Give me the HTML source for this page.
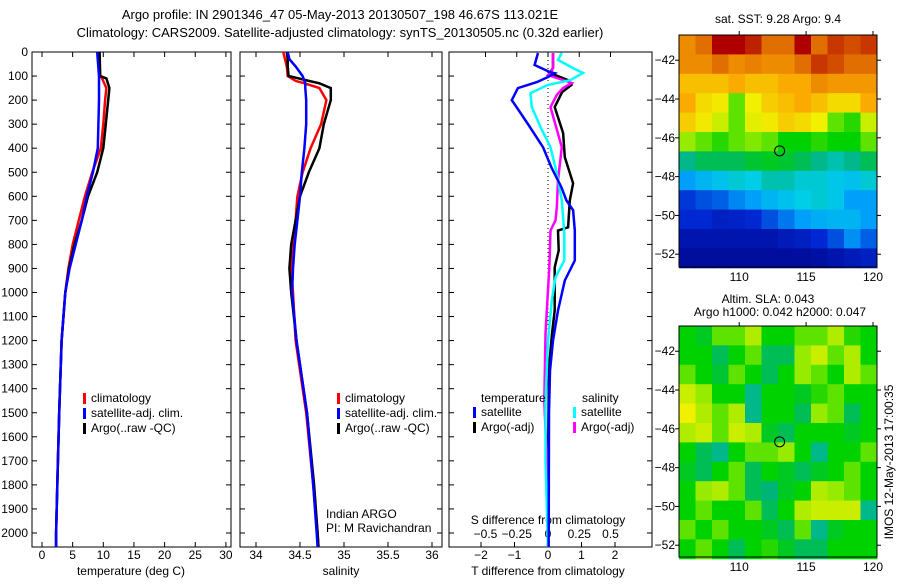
<!DOCTYPE html>
<html><head><meta charset="utf-8"><style>
body{margin:0;background:#fff;}
svg text{font-family:"Liberation Sans",sans-serif;font-size:12px;fill:#000;}
</style></head><body>
<svg id="s" width="900" height="580" xmlns="http://www.w3.org/2000/svg">
<text x="340" y="19" text-anchor="middle" style="font-size:13px">Argo profile: IN 2901346_47 05-May-2013 20130507_198 46.67S 113.021E</text>
<text x="340" y="37" text-anchor="middle" style="font-size:13px">Climatology: CARS2009. Satellite-adjusted climatology: synTS_20130505.nc (0.32d earlier)</text>
<text x="131" y="575" text-anchor="middle">temperature (deg C)</text>
<text x="341" y="575" text-anchor="middle">salinity</text>
<text x="548" y="575" text-anchor="middle">T difference from climatology</text>
<text x="548" y="524" text-anchor="middle">S difference from climatology</text>
<text x="326" y="518">Indian ARGO</text>
<text x="326" y="532">PI: M Ravichandran</text>
<text x="778" y="23" text-anchor="middle">sat. SST: 9.28 Argo: 9.4</text>
<text x="768" y="303" text-anchor="middle">Altim. SLA: 0.043</text>
<text x="780" y="316" text-anchor="middle">Argo h1000: 0.042 h2000: 0.047</text>
<text transform="translate(893,462) rotate(-90)" text-anchor="middle">IMOS 12-May-2013 17:00:35</text>
<g id="g"></g>
</svg>
<script>
// ---- data ----
const depthsT = [0,100,110,150,200,300,400,500,600,700,800,900,1000,1200,1500,1800,2000,2060];
const tempClim = [9.2,9.5,9.8,10.5,10.3,10.0,9.6,8.2,7.0,6.0,5.0,4.3,3.8,3.2,2.8,2.5,2.3,2.3];
const tempArgo = [9.4,9.5,10.5,11.0,10.8,10.4,10.0,9.0,7.5,6.5,5.3,4.4,3.8,3.2,2.8,2.5,2.3,2.3];
const tempSat  = [9.0,9.3,9.3,9.3,9.3,9.2,9.1,8.3,7.3,6.5,5.5,4.5,3.8,3.2,2.8,2.5,2.3,2.3];
const depthsS = [0,30,60,100,120,130,150,200,300,400,500,600,700,800,900,1000,1200,1500,1800,2000,2060];
const salClim = [34.31,34.33,34.35,34.36,34.45,34.55,34.72,34.8,34.74,34.62,34.53,34.47,34.45,34.42,34.4,34.42,34.45,34.57,34.65,34.7,34.71];
const salArgo = [34.35,34.36,34.36,34.37,34.6,34.72,34.85,34.85,34.77,34.72,34.6,34.5,34.45,34.4,34.38,34.4,34.46,34.58,34.66,34.7,34.71];
const salSat  = [34.36,34.38,34.45,34.53,34.55,34.56,34.56,34.57,34.57,34.55,34.52,34.5,34.47,34.44,34.42,34.41,34.46,34.58,34.65,34.69,34.7];
const dDepthBlue = [4,54,83,88,104,125,150,200,250,312,396,480,562,617,658,742,867,950,1075,1200,1325,1500,2000,2060];
const dTSat = [-0.3,-0.4,0.05,0.2,0,-0.33,-0.9,-1.08,-0.84,-0.54,-0.15,0.1,0.4,0.55,0.75,0.8,0.8,0.5,0.3,0.15,0.06,0.03,0.02,0.02];
const dDepthBlack = [4,67,87,117,137,167,229,337,437,546,617,729,742,825,896,1075,1171,1312,1600,2060];
const dTArgo = [0.15,0.15,0.05,0.6,0.7,0.42,0.2,0.45,0.5,0.75,0.65,0.6,0.3,0.32,0.2,0.2,0.12,0.03,0.01,0];
const dDepthCyan = [4,33,67,87,117,137,171,229,312,396,504,617,754,867,937,1033,1200,1450,1700,2060];
const dSSat = [0.11,0.08,0.2,0.28,0.18,0,-0.14,-0.13,-0.06,0.02,0.07,0.11,0.13,0.13,0.06,0.03,0,-0.02,-0.02,0];
const dDepthMag = [4,67,87,96,108,129,150,179,229,396,533,646,700,742,896,1171,1450,1700,2060];
const dSArgo = [0.04,0.04,0.02,0,0.07,0.19,0.12,0.07,0.02,0.11,0.08,0.07,0.06,0.02,0.01,-0.02,-0.03,-0.01,0];
const depthTicks = [0,100,200,300,400,500,600,700,800,900,1000,1100,1200,1300,1400,1500,1600,1700,1800,1900,2000];
const tempTicks = [0,5,10,15,20,25,30];
const salTicks = [34,34.5,35,35.5,36];
const salTickLabels = ["34","34.5","35","35.5","36"];
const dTTicks = [-2,-1,0,1,2];
const dSTicks = [-0.5,-0.25,0,0.25,0.5];
const dSTickLabels = ["-0.5","-0.25","0","0.25","0.5"];
const latTicks = [-42,-44,-46,-48,-50,-52];
const lonTicks = [110,115,120];
const sstGrid = [
[0.8,0.85,0.95,0.95,0.92,0.85,0.85,0.95,0.85,0.9,0.88,0.9],
[0.8,0.8,0.85,0.8,0.82,0.8,0.8,0.85,0.9,0.88,0.85,0.85],
[0.72,0.72,0.72,0.75,0.72,0.72,0.75,0.75,0.8,0.78,0.78,0.78],
[0.75,0.68,0.66,0.55,0.65,0.7,0.72,0.75,0.72,0.68,0.68,0.75],
[0.7,0.66,0.62,0.55,0.64,0.66,0.7,0.68,0.65,0.55,0.52,0.62],
[0.58,0.55,0.52,0.55,0.57,0.55,0.5,0.5,0.52,0.5,0.5,0.55],
[0.42,0.45,0.45,0.45,0.47,0.48,0.47,0.45,0.42,0.4,0.42,0.45],
[0.3,0.33,0.35,0.38,0.37,0.4,0.4,0.38,0.38,0.36,0.35,0.38],
[0.17,0.2,0.22,0.27,0.3,0.33,0.35,0.37,0.38,0.36,0.3,0.3],
[0.15,0.15,0.12,0.13,0.15,0.2,0.25,0.3,0.32,0.33,0.33,0.3],
[0.08,0.08,0.08,0.08,0.08,0.08,0.1,0.12,0.15,0.2,0.28,0.22],
[0.05,0.05,0.05,0.05,0.05,0.05,0.05,0.05,0.06,0.08,0.1,0.12]];
const slaGrid = [
[.5,.48,.55,.55,.6,.5,.5,.55,.55,.6,.52,.5],
[.5,.5,.45,.5,.55,.45,.45,.58,.62,.55,.6,.5],
[.55,.5,.47,.55,.5,.45,.5,.58,.55,.5,.6,.55],
[.62,.58,.5,.5,.42,.5,.5,.48,.52,.55,.5,.5],
[.65,.6,.55,.6,.42,.5,.5,.45,.58,.55,.45,.5],
[.6,.62,.55,.62,.6,.48,.45,.5,.5,.5,.48,.5],
[.5,.45,.42,.5,.55,.55,.58,.5,.42,.5,.5,.55],
[.48,.45,.5,.55,.45,.5,.48,.45,.48,.5,.55,.5],
[.5,.58,.6,.55,.45,.43,.48,.5,.6,.58,.55,.5],
[.5,.55,.5,.5,.55,.45,.5,.6,.62,.62,.62,.42],
[.55,.5,.55,.5,.5,.48,.45,.55,.42,.48,.5,.5],
[.5,.55,.5,.45,.5,.52,.48,.45,.45,.5,.5,.5]];
const floatLon = 113.021, floatLat = -46.67;

// ---- drawing ----
const NS="http://www.w3.org/2000/svg", G=document.getElementById('g');
function el(t,a,p){const e=document.createElementNS(NS,t);for(const k in a)e.setAttribute(k,a[k]);(p||G).appendChild(e);return e;}
const yTop=52, bot=547;
const yD = d => yTop + d*0.2405;
const xT = t => 42 + t*6.13;
const xS = s => 256 + (s-34)*88;
const xdT = t => 548 + t*33.5;
const xdS = s => 548 + s*125;

function frame(x0,x1,name){
  const r=el('rect',{x:x0,y:yTop,width:x1-x0,height:bot-yTop,fill:'none',stroke:'#000','stroke-width':1});
  
  
  depthTicks.forEach(d=>{
    el('line',{x1:x0,x2:x0+5,y1:yD(d),y2:yD(d),stroke:'#000'});
    el('line',{x1:x1,x2:x1-5,y1:yD(d),y2:yD(d),stroke:'#000'});
  });
}
function xticks(vals,labels,fx,yl,name){
  vals.forEach((v,i)=>{
    el('line',{x1:fx(v),x2:fx(v),y1:yTop,y2:yTop+5,stroke:'#000'});
    el('line',{x1:fx(v),x2:fx(v),y1:bot,y2:bot-5,stroke:'#000'});
    const t=el('text',{x:fx(v),y:yl,'text-anchor':'middle'});
    t.textContent=labels[i];
    
    
  });
}
function clipRect(id,x0,x1){const c=el('clipPath',{id:id});el('rect',{x:x0,y:yTop,width:x1-x0,height:bot-yTop},c);}
clipRect('c1',32,231);clipRect('c2',240,442);clipRect('c3',449,652);

// panel 1
frame(32,231,'temperature-panel');
depthTicks.forEach(d=>{const t=el('text',{x:28,y:yD(d)+4,'text-anchor':'end'});t.textContent=d;
  
  });
xticks(tempTicks,tempTicks.map(String),xT,559,'temperature-tick-label');
let g1=el('g',{'clip-path':'url(#c1)'});
[[tempClim,'#f00','temp-climatology-line'],[tempArgo,'#000','temp-argo-line'],[tempSat,'#00f','temp-satellite-line']].forEach(a=>{
  const p=el('polyline',{points:depthsT.map((d,i)=>xT(a[0][i]).toFixed(1)+','+yD(d).toFixed(1)).join(' '),fill:'none',stroke:a[1],'stroke-width':2.5},g1);
  
  
});
// panel 2
frame(240,442,'salinity-panel');
xticks(salTicks,salTickLabels,xS,559,'salinity-tick-label');
let g2=el('g',{'clip-path':'url(#c2)'});
[[salClim,'#f00','sal-climatology-line'],[salArgo,'#000','sal-argo-line'],[salSat,'#00f','sal-satellite-line']].forEach(a=>{
  const p=el('polyline',{points:depthsS.map((d,i)=>xS(a[0][i]).toFixed(1)+','+yD(d).toFixed(1)).join(' '),fill:'none',stroke:a[1],'stroke-width':2.5},g2);
  
  
});
// panel 3
frame(449,652,'difference-panel');
el('line',{x1:548,x2:548,y1:yTop,y2:bot,stroke:'#000','stroke-dasharray':'1,3'});
dTTicks.forEach(v=>{el('line',{x1:xdT(v),x2:xdT(v),y1:bot,y2:bot-5,stroke:'#000'});
  const t=el('text',{x:xdT(v),y:559,'text-anchor':'middle'});t.textContent=String(v).replace('-','\u2212');
  
  });
dSTicks.forEach((v,i)=>{el('line',{x1:xdS(v),x2:xdS(v),y1:yTop,y2:yTop+5,stroke:'#000'});
  const t=el('text',{x:xdS(v),y:538,'text-anchor':'middle'});t.textContent=dSTickLabels[i].replace('-','\u2212');
  
  });
let g3=el('g',{'clip-path':'url(#c3)'});
function dl(depths,vals,fx,color,name){const p=el('polyline',{points:depths.map((d,i)=>fx(vals[i]).toFixed(1)+','+yD(d).toFixed(1)).join(' '),fill:'none',stroke:color,'stroke-width':2.5},g3);
  
  }
dl(dDepthBlack,dTArgo,xdT,'#000','t-diff-argo-line');
dl(dDepthMag,dSArgo,xdS,'#f0f','s-diff-argo-line');
dl(dDepthCyan,dSSat,xdS,'#0ff','s-diff-satellite-line');
dl(dDepthBlue,dTSat,xdT,'#00f','t-diff-satellite-line');

// legends
function legend(x,y,color,label,name){
  el('rect',{x:x,y:y-9,width:3,height:11,fill:color});
  const t=el('text',{x:x+8,y:y});t.textContent=label;
  
  
}
[[83,'temp'],[337,'sal']].forEach(p=>{
  legend(p[0],402,'#f00','climatology',p[1]+'-legend-climatology');
  legend(p[0],417,'#00f','satellite-adj. clim.',p[1]+'-legend-satellite');
  legend(p[0],432,'#000','Argo(..raw -QC)',p[1]+'-legend-argo');
});
let lt=el('text',{x:481,y:402});lt.textContent='temperature';


let ls=el('text',{x:582,y:402});ls.textContent='salinity';


legend(473,416,'#00f','satellite','diff-legend-t-satellite');
legend(473,431,'#000','Argo(-adj)','diff-legend-t-argo');
legend(573,416,'#0ff','satellite','diff-legend-s-satellite');
legend(573,431,'#f0f','Argo(-adj)','diff-legend-s-argo');

// maps
const cmapStops=[[0,[0,0,130]],[0.15,[0,40,210]],[0.3,[0,160,250]],[0.37,[0,205,230]],[0.43,[0,180,120]],[0.5,[0,210,0]],[0.58,[150,235,0]],[0.65,[240,240,0]],[0.75,[250,170,0]],[0.85,[225,110,0]],[0.95,[175,0,0]],[1,[150,0,0]]];
function jet(v){v=Math.max(0,Math.min(1,v));
  for(let i=1;i<cmapStops.length;i++){const a=cmapStops[i-1],b=cmapStops[i];
    if(v<=b[0]){const f=(v-a[0])/(b[0]-a[0]);
      return 'rgb('+a[1].map((c,k)=>Math.round(c+(b[1][k]-c)*f)).join(',')+')';}}
  return 'rgb(150,0,0)';}
function map(y0,y1,grid,name){
  const x0=679,x1=877,lon0=105.5,lon1=120.3,lat0=-40.7;
  const fx=lo=>x0+(lo-lon0)*(x1-x0)/(lon1-lon0);
  const fy=la=>y0+(lat0-la)*19.4;
  const nr=grid.length,nc=grid[0].length;
  const dLat=(lat0-(-52.7))/nr, dLon=(lon1-lon0)/nc;
  const mg=el('g',{});
  
  
  grid.forEach((row,i)=>row.forEach((v,j)=>{
    const c=el('rect',{x:fx(lon0+j*dLon),y:fy(lat0-i*dLat),width:(x1-x0)/nc+0.5,height:dLat*19.4+0.5,fill:jet(v)},mg);
    
    
  }));
  el('rect',{x:x0,y:y0,width:x1-x0,height:y1-y0,fill:'none',stroke:'#000'});
  latTicks.forEach(la=>{el('line',{x1:x0,x2:x0-4,y1:fy(la),y2:fy(la),stroke:'#000'});
    el('line',{x1:x1,x2:x1+4,y1:fy(la),y2:fy(la),stroke:'#000'});
    const t=el('text',{x:675,y:fy(la)+4,'text-anchor':'end'});t.textContent=String(la).replace('-','\u2212');
    
    });
  lonTicks.forEach(lo=>{el('line',{x1:fx(lo),x2:fx(lo),y1:y0,y2:y0-4,stroke:'#000'});
    const t=el('text',{x:fx(lo),y:y1+14,'text-anchor':'middle'});t.textContent=lo;
    
    });
  const m=el('circle',{cx:fx(floatLon),cy:fy(floatLat),r:5,fill:'none',stroke:'#000'});
  
  
}
map(35,267,sstGrid,'sst-map');
map(326,557,slaGrid,'sla-map');
</script>
</body></html>
